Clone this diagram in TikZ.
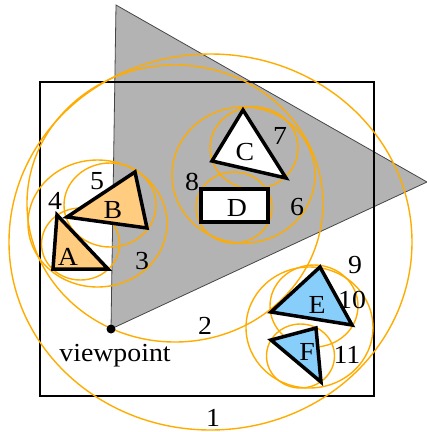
\documentclass[tikz,border=0pt]{standalone}
\usepackage{fontspec}
\setmainfont{Liberation Serif}
\definecolor{bvorange}{RGB}{255,172,0}
\definecolor{frustum}{RGB}{179,179,179}
\definecolor{frustumline}{RGB}{70,70,70}
\definecolor{tanfill}{RGB}{255,204,128}
\definecolor{bluefill}{RGB}{135,206,250}
\tikzset{
  bound/.style={draw=bvorange, line width=1.4pt},
  objtri/.style={draw=black, line width=3.5pt, line join=miter},
  lbl/.style={inner sep=0pt, font=\fontsize{26}{28}\selectfont, xscale=1.07, transform shape},
}
\begin{document}
\begin{tikzpicture}[x=1pt,y=-1pt]
\useasboundingbox (0,0) rectangle (427,432);
% view frustum
\coordinate (vp) at (111,329);
\coordinate (ftop) at (116,5);
\coordinate (fright) at (427,182);
\fill[frustum] (ftop) -- (fright) -- (vp) -- cycle;
\draw[frustumline, line width=0.8pt] (ftop) -- (fright) -- (vp) -- cycle;
% scene box
\draw[line width=2pt] (40,82) rectangle (374,396);
% bounding volumes
\draw[bound] (210.5,242) ellipse [x radius=201.5pt, y radius=188pt];
\draw[bound] (175,203.5) ellipse [x radius=148pt, y radius=138.5pt];
\draw[bound] (97.5,223.5) ellipse [x radius=69.5pt, y radius=63.5pt];
\draw[bound] (80.5,244) ellipse [x radius=39pt, y radius=36pt];
\draw[bound] (110,205) ellipse [x radius=46pt, y radius=42pt];
\draw[bound] (243.5,175) ellipse [x radius=71.5pt, y radius=68pt];
\draw[bound] (254,148) ellipse [x radius=44pt, y radius=41pt];
\draw[bound] (234,207.5) ellipse [x radius=38pt, y radius=35.5pt];
\draw[bound] (309.5,327.5) ellipse [x radius=63.5pt, y radius=60.5pt];
\draw[bound] (314,306) ellipse [x radius=44pt, y radius=41pt];
\draw[bound] (300.5,356) ellipse [x radius=34pt, y radius=32pt];
% objects
\draw[objtri, fill=tanfill] (57,215) -- (53,269) -- (108,269) -- cycle;
\draw[objtri, fill=tanfill] (67,217) -- (135,172) -- (147,228) -- cycle;
\draw[objtri, fill=white] (243,110) -- (212,161) -- (286,178) -- cycle;
\draw[objtri, fill=white] (201,189) rectangle (268,222);
\draw[objtri, fill=bluefill] (320,267) -- (271,312) -- (352,325) -- cycle;
\draw[objtri, fill=bluefill] (271,340) -- (316,328) -- (321,382) -- cycle;
% viewpoint
\fill (vp) circle [radius=4.5pt];
% labels
\node[lbl] (la) at (68,257) {A};
\node[lbl] (lb) at (113,210) {B};
\node[lbl] (lc) at (245,152) {C};
\node[lbl] (ld) at (237,208) {D};
\node[lbl] (le) at (317,305) {E};
\node[lbl] (lf) at (307,352) {F};
\node[lbl] (n1) at (213,418) {1};
\node[lbl] (n2) at (205,326) {2};
\node[lbl] (n3) at (142,261) {3};
\node[lbl] (n4) at (55,201) {4};
\node[lbl] (n5) at (97,181) {5};
\node[lbl] (n6) at (297,207) {6};
\node[lbl] (n7) at (280,136) {7};
\node[lbl] (n8) at (192,182) {8};
\node[lbl] (n9) at (355,265) {9};
\node[lbl] (n10) at (352,300) {10};
\node[lbl] (n11) at (347,355) {11};
\node[lbl, anchor=base] (vpl) at (115,361) {viewpoint};
\end{tikzpicture}
\end{document}
